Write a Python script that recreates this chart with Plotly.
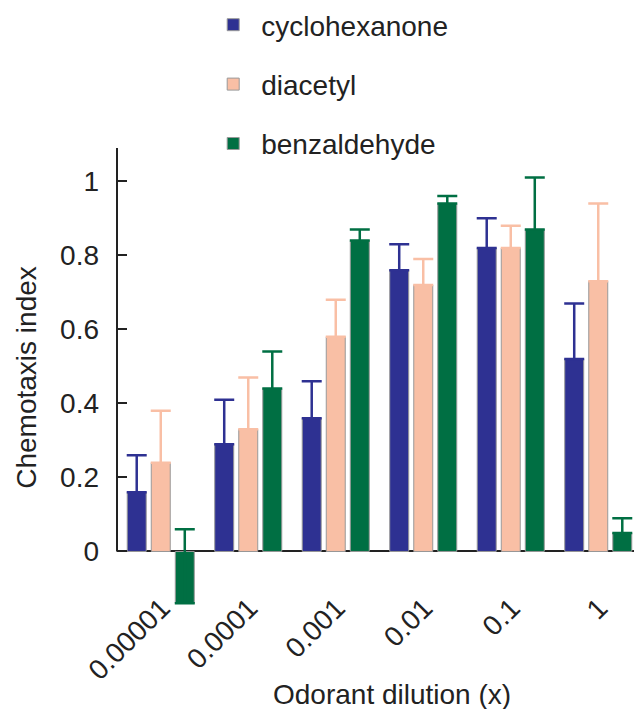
import plotly.graph_objects as go

dilutions = ["0.00001", "0.0001", "0.001", "0.01", "0.1", "1"]
series_names = ["cyclohexanone", "diacetyl", "benzaldehyde"]
cyclohexanone = [0.16, 0.29, 0.36, 0.76, 0.82, 0.52]
cyclohexanone_err = [0.10, 0.12, 0.10, 0.07, 0.08, 0.15]
diacetyl = [0.24, 0.33, 0.58, 0.72, 0.82, 0.73]
diacetyl_err = [0.14, 0.14, 0.10, 0.07, 0.06, 0.21]
benzaldehyde = [-0.14, 0.44, 0.84, 0.94, 0.87, 0.05]
benzaldehyde_err = [0.20, 0.10, 0.03, 0.02, 0.14, 0.04]
y_ticks = [0, 0.2, 0.4, 0.6, 0.8, 1]
y_tick_text = ["0", "0.2", "0.4", "0.6", "0.8", "1"]

colors = ["#2e3192", "#f9bfa5", "#006f43"]
FONT = "Liberation Sans, Arial, sans-serif"
FS = 28

# page body adds an 8px margin; figure is sized so the visible window matches
W, H = 634, 701
ML, MR, MT, MB = 109, 0, 140, 102

xs = list(range(len(dilutions)))
fig = go.Figure()
for name, vals, errs, c in zip(series_names,
                               [cyclohexanone, diacetyl, benzaldehyde],
                               [cyclohexanone_err, diacetyl_err, benzaldehyde_err],
                               colors):
    fig.add_trace(go.Bar(
        x=xs, y=vals, name=name, legendgroup=name,
        marker=dict(color=c, line=dict(color="#999999", width=1)),
        error_y=dict(type="data", symmetric=False, array=errs,
                     arrayminus=[0] * len(errs), color=c,
                     thickness=2.5, width=10),
    ))

fig.add_shape(type="line", xref="paper", yref="y", x0=0, x1=0, y0=0, y1=1.09,
              line=dict(color="#222222", width=2))

fig.add_annotation(text="Odorant dilution (x)", xref="paper", yref="paper",
                   x=0.524, y=0, yshift=-87, xanchor="center", yanchor="middle",
                   showarrow=False, font=dict(size=FS))

plot_h = H - MT - MB
fig.update_layout(
    width=W, height=H,
    margin=dict(l=ML, r=MR, t=MT, b=MB, autoexpand=False),
    paper_bgcolor="white", plot_bgcolor="white",
    barmode="group", bargap=0.176, bargroupgap=0.21,
    font=dict(family=FONT, size=FS, color="#222222"),
    showlegend=True,
    legend=dict(x=0.168, y=1 + (MT + 8) / plot_h, xanchor="left", yanchor="top",
                font=dict(size=FS),
                tracegroupgap=20, itemwidth=46,
                bgcolor="rgba(0,0,0,0)"),
    xaxis=dict(range=[-0.5, 5.5], tickmode="array", tickvals=xs,
               ticktext=dilutions, tickangle=-45, showline=False, showgrid=False,
               zeroline=False, ticks="", tickfont=dict(size=FS), automargin=False,
               ticklabelstandoff=-22, ticklabelshift=1),
    yaxis=dict(range=[-0.15, 1.09], tickmode="array", tickvals=y_ticks,
               ticktext=y_tick_text, ticks="inside", ticklen=10, tickwidth=2,
               tickcolor="#222222", showline=False, showgrid=False,
               zeroline=True, zerolinecolor="#222222", zerolinewidth=2,
               tickfont=dict(size=FS), automargin=False, ticklabelstandoff=17,
               title=dict(text="Chemotaxis index", font=dict(size=FS), standoff=15)),
)

fig.write_html("out.html")
